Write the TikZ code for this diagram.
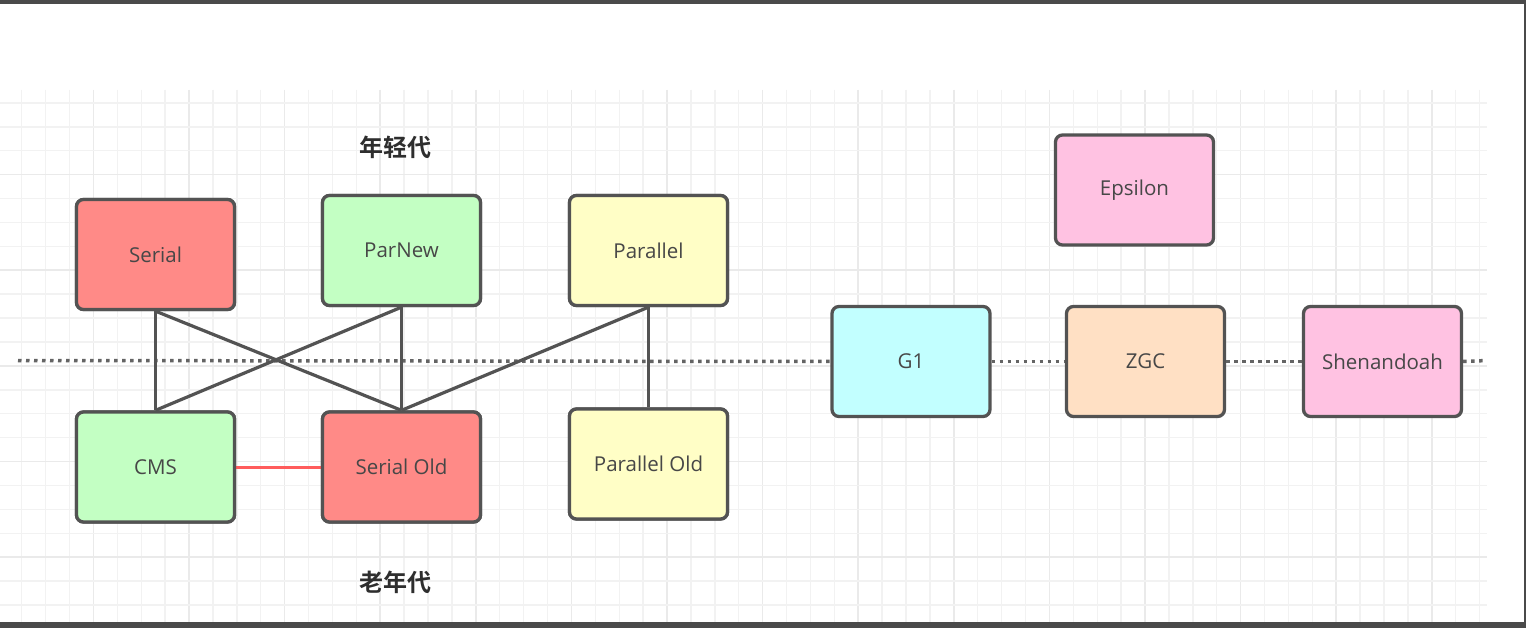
\documentclass[tikz,border=0pt]{standalone}
\usepackage{fontspec}
\setmainfont{Open Sans}
\newfontfamily\cjk{Noto Sans CJK SC}[BoldFont={Noto Sans CJK SC Bold}]
\definecolor{frame}{HTML}{4A4A4A}
\definecolor{gridminor}{HTML}{F2F2F2}
\definecolor{gridmajor}{HTML}{EAEAEA}
\definecolor{edge}{HTML}{535353}
\definecolor{txt}{HTML}{474747}
\definecolor{cred}{HTML}{FF8A87}
\definecolor{cgreen}{HTML}{C3FFC3}
\definecolor{cyellow}{HTML}{FFFEC6}
\definecolor{ccyan}{HTML}{C2FFFF}
\definecolor{cpeach}{HTML}{FFE0C4}
\definecolor{cpink}{HTML}{FFC2E2}
\definecolor{redline}{HTML}{FF5C5C}
\tikzset{
  gcbox/.style={draw=edge, line width=3.3pt, rounded corners=7pt, minimum width=158pt,
    minimum height=110pt, inner sep=0pt, text=txt, font=\fontsize{20.5}{24}\selectfont},
  link/.style={draw=edge, line width=3.2pt},
  sep/.style={draw=edge!90, line width=3.5pt, dash pattern=on 3.5pt off 4.5pt},
  gen/.style={text=black!82, font=\cjk\bfseries\fontsize{24}{28}\selectfont}
}
\begin{document}
\begin{tikzpicture}[x=1pt,y=-1pt]
\useasboundingbox (0,0) rectangle (1526,628);
\fill[white] (0,0) rectangle (1526,628);
% grid
\foreach \k in {0,...,61}{
  \pgfmathsetmacro{\xx}{21.7+\k*23.9}
  \pgfmathtruncatemacro{\m}{mod(\k,4)}
  \ifnum\m=3 \draw[gridmajor, line width=1.6pt] (\xx,90) -- (\xx,622);
  \else \draw[gridminor, line width=1.4pt] (\xx,90) -- (\xx,622); \fi
}
\foreach \j in {0,...,21}{
  \pgfmathsetmacro{\yy}{103+\j*23.9}
  \pgfmathtruncatemacro{\m}{mod(\j,4)}
  \ifnum\m=3 \draw[gridmajor, line width=1.6pt] (0,\yy) -- (1487,\yy);
  \else \draw[gridminor, line width=1.4pt] (0,\yy) -- (1487,\yy); \fi
}
% screenshot frame
\fill[frame] (0,0) rectangle (1526,4);
\fill[frame] (1524,0) rectangle (1526,628);
\fill[frame] (0,622) rectangle (1526,628);

% labels
\node[gen] (young) at (395,147) {年轻代};
\node[gen] (old) at (395,582) {老年代};

% separator
\coordinate (sepL) at (18,360.5);
\coordinate (sepR) at (1487,360.5);

% boxes
\node[gcbox, fill=cred]    (serial)   at (155.5,254.5) {Serial};
\node[gcbox, fill=cgreen]  (parnew)   at (401.5,250.5) {ParNew};
\node[gcbox, fill=cyellow] (parallel) at (648.5,250.5) {Parallel};
\node[gcbox, fill=cgreen]  (cms)      at (155.5,467)   {CMS};
\node[gcbox, fill=cred]    (serold)   at (401.5,467)   {Serial Old};
\node[gcbox, fill=cyellow] (parold)   at (648.5,464)   {Parallel Old};
\node[gcbox, fill=ccyan]   (g1)       at (911,361.5)   {G1};
\node[gcbox, fill=cpeach]  (zgc)      at (1145.5,361.5){ZGC};
\node[gcbox, fill=cpink]   (shen)     at (1382.5,361.5){Shenandoah};
\node[gcbox, fill=cpink]   (eps)      at (1134.5,190)  {Epsilon};

\draw[sep] (sepL) -- (g1.west);
\draw[sep] (g1.east) -- (zgc.west);
\draw[sep] (zgc.east) -- (shen.west);
\draw[sep] (shen.east) -- (sepR);

% connectors
\draw[link] (serial.south) -- (cms.north);
\draw[link] (serial.south) -- (serold.north);
\draw[link] (parnew.south) -- (cms.north);
\draw[link] (parnew.south) -- (serold.north);
\draw[link] (parallel.south) -- (serold.north);
\draw[link] (parallel.south) -- (parold.north);
\draw[draw=redline, line width=3pt] (cms.east) -- (serold.west);

% redraw boxes on top of connectors
\node[gcbox, fill=cred]    at (serial) {Serial};
\node[gcbox, fill=cgreen]  at (parnew) {ParNew};
\node[gcbox, fill=cyellow] at (parallel) {Parallel};
\node[gcbox, fill=cgreen]  at (cms) {CMS};
\node[gcbox, fill=cred]    at (serold) {Serial Old};
\node[gcbox, fill=cyellow] at (parold) {Parallel Old};
\end{tikzpicture}
\end{document}
